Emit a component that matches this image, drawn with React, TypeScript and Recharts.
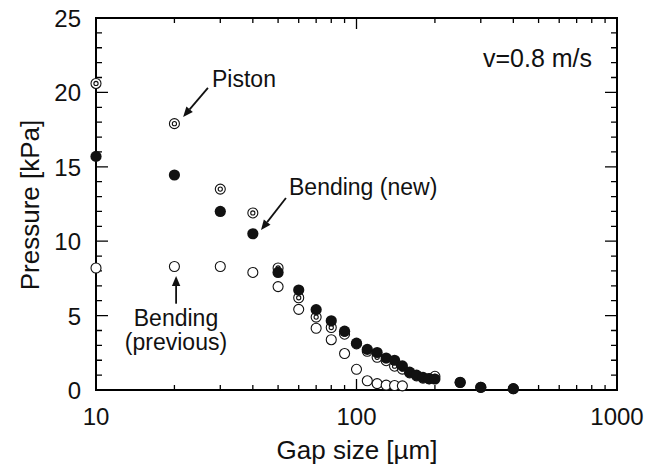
import React from 'react';
import * as R from 'recharts';
import { ScatterChart, Scatter, XAxis, YAxis, ReferenceLine, Customized } from 'recharts';

// ---- data ----
const pistonGaps = [10, 20, 30, 40, 50, 60, 70, 80, 90, 100, 110, 120, 130, 140, 150, 160, 170, 180, 190, 200, 250, 300, 400];
const pistonValues = [20.6, 17.9, 13.5, 11.9, 8.2, 6.2, 4.9, 4.2, 3.75, 3.1, 2.6, 2.2, 1.97, 1.6, 1.4, 1.15, 0.95, 0.8, 0.75, 0.92, 0.5, 0.18, 0.08];

const newGaps = [10, 20, 30, 40, 50, 60, 70, 80, 90, 100, 110, 120, 130, 140, 150, 160, 170, 180, 190, 200, 250, 300, 400];
const newValues = [15.7, 14.45, 12.0, 10.5, 7.9, 6.72, 5.4, 4.65, 3.95, 3.15, 2.73, 2.52, 2.15, 2.0, 1.62, 1.2, 1.0, 0.85, 0.77, 0.74, 0.52, 0.18, 0.09];

const prevGaps = [10, 20, 30, 40, 50, 60, 70, 80, 90, 100, 110, 120, 130, 140, 150];
const prevValues = [8.2, 8.3, 8.3, 7.9, 6.95, 5.42, 4.15, 3.38, 2.45, 1.39, 0.62, 0.43, 0.33, 0.3, 0.28];

const xTicks = [10, 20, 30, 40, 50, 60, 70, 80, 90, 100, 200, 300, 400, 500, 600, 700, 800, 900, 1000];
const xMajor = [10, 100, 1000];
const yTicks = [0, 1, 2, 3, 4, 5, 6, 7, 8, 9, 10, 11, 12, 13, 14, 15, 16, 17, 18, 19, 20, 21, 22, 23, 24, 25];
const yMajor = [0, 5, 10, 15, 20, 25];
const X_MIN = 10;
const X_MAX = 1000;
const Y_MIN = 0;
const Y_MAX = 25;

const xTitle = 'Gap size [µm]';
const yTitle = 'Pressure [kPa]';
const speedLabel = 'v=0.8 m/s';

const pistonData = pistonGaps.map((g, i) => ({ x: g, y: pistonValues[i] }));
const newData = newGaps.map((g, i) => ({ x: g, y: newValues[i] }));
const prevData = prevGaps.map((g, i) => ({ x: g, y: prevValues[i] }));

// ---- layout / styles ----
const INK = '#111';
const FONT = '"Liberation Sans", Arial, Helvetica, sans-serif';
const MARGIN = { top: 18, right: 44, bottom: 0, left: 0 };
const CHART_W = 661;
const CHART_H = 467;
const Y_AXIS_W = 96;
const X_AXIS_H = 77;

const XTickLabel = (props: any) => {
  const { x, y, payload } = props;
  const v = payload.value;
  if (!xMajor.includes(v)) return <g />;
  return (
    <text x={x} y={y + 35} textAnchor="middle" fontSize={24} fontFamily={FONT} fill={INK}>
      {v}
    </text>
  );
};

const YTickLabel = (props: any) => {
  const { x, y, payload } = props;
  const v = payload.value;
  if (!yMajor.includes(v)) return <g />;
  return (
    <text x={x - 15} y={y + 9} textAnchor="end" fontSize={24} fontFamily={FONT} fill={INK}>
      {v}
    </text>
  );
};

const FilledDot = (p: any) => <circle cx={p.cx} cy={p.cy} r={5.6} fill={INK} />;
const OpenDot = (p: any) => <circle cx={p.cx} cy={p.cy} r={5} fill="#fff" stroke={INK} strokeWidth={1.1} />;
const DoubleDot = (p: any) => (
  <g>
    <circle cx={p.cx} cy={p.cy} r={5} fill="#fff" stroke={INK} strokeWidth={1.1} />
    <circle cx={p.cx} cy={p.cy} r={2.1} fill="#fff" stroke={INK} strokeWidth={1.1} />
  </g>
);

const Arrow = (p: any) => {
  const { x1, y1, x2, y2 } = p;
  const a = Math.atan2(y2 - y1, x2 - x1);
  const hl = 10;
  const hw = 4.2;
  const bx = x2 - hl * Math.cos(a);
  const by = y2 - hl * Math.sin(a);
  const nx = -Math.sin(a);
  const ny = Math.cos(a);
  return (
    <g>
      <line x1={x1} y1={y1} x2={bx} y2={by} stroke={INK} strokeWidth={1.8} />
      <polygon
        points={`${x2},${y2} ${bx + hw * nx},${by + hw * ny} ${bx - hw * nx},${by - hw * ny}`}
        fill={INK}
      />
    </g>
  );
};

// Frame with inward ticks on all four sides, placed on the chart's plot area
const usePlot = () => {
  const hook = (R as any).usePlotArea;
  const area = hook ? hook() : null;
  if (area && area.width > 0) return area;
  return {
    x: MARGIN.left + Y_AXIS_W,
    y: MARGIN.top,
    width: CHART_W - MARGIN.left - MARGIN.right - Y_AXIS_W,
    height: CHART_H - MARGIN.top - MARGIN.bottom - X_AXIS_H,
  };
};

const Frame = () => {
  const pa = usePlot();
  const sx = (v: number) => pa.x + (Math.log10(v / X_MIN) / Math.log10(X_MAX / X_MIN)) * pa.width;
  const sy = (v: number) => pa.y + pa.height - ((v - Y_MIN) / (Y_MAX - Y_MIN)) * pa.height;
  const top = pa.y;
  const bottom = pa.y + pa.height;
  const left = pa.x;
  const right = pa.x + pa.width;
  let d = '';
  xTicks.forEach((v) => {
    const len = xMajor.includes(v) ? 11 : 5;
    const x = sx(v);
    d += `M${x},${bottom}V${bottom - len}M${x},${top}V${top + len}`;
  });
  yTicks.forEach((v) => {
    const len = yMajor.includes(v) ? 12 : 6;
    const y = sy(v);
    d += `M${left},${y}H${left + len}M${right},${y}H${right - len}`;
  });
  return (
    <g>
      <path d={d} stroke="#000" strokeWidth={1.3} fill="none" />
      <rect x={left} y={top} width={right - left} height={bottom - top} fill="none" stroke="#000" strokeWidth={2} />
    </g>
  );
};

const Annotations = () => (
  <g fontFamily={FONT} fill={INK}>
    <text x={30} y={205} transform="rotate(-90 30 205)" textAnchor="middle" dominantBaseline="central" fontSize={26}>
      {yTitle}
    </text>
    <text x={357} y={459} textAnchor="middle" fontSize={26}>
      {xTitle}
    </text>
    <text x={212} y={87} fontSize={23}>Piston</text>
    <text x={289} y={195} fontSize={23}>Bending (new)</text>
    <text x={176} y={326} textAnchor="middle" fontSize={23}>Bending</text>
    <text x={176} y={350} textAnchor="middle" fontSize={23}>(previous)</text>
    <text x={483} y={67} fontSize={25}>{speedLabel}</text>
  </g>
);

const ax = { xAxisId: 'bottom', yAxisId: 'left' } as const;

export default function App() {
  return (
    <div style={{ position: 'absolute', left: 0, top: 0 }}>
      <ScatterChart width={CHART_W} height={CHART_H} margin={MARGIN}>
        <XAxis
          xAxisId="bottom"
          dataKey="x"
          type="number"
          scale="log"
          domain={[X_MIN, X_MAX]}
          ticks={xTicks}
          interval={0}
          height={X_AXIS_H}
          tickSize={0}
          tickMargin={0}
          tickLine={false}
          axisLine={false}
          tick={<XTickLabel />}
        />
        <YAxis
          yAxisId="left"
          dataKey="y"
          type="number"
          domain={[Y_MIN, Y_MAX]}
          ticks={yTicks}
          interval={0}
          width={Y_AXIS_W}
          tickSize={0}
          tickMargin={0}
          tickLine={false}
          axisLine={false}
          tick={<YTickLabel />}
        />
        <Scatter {...ax} data={pistonData} shape={DoubleDot} isAnimationActive={false} />
        <Scatter {...ax} data={prevData} shape={OpenDot} isAnimationActive={false} />
        <Scatter {...ax} data={newData} shape={FilledDot} isAnimationActive={false} />
        <ReferenceLine {...ax} segment={[{ x: 26.9, y: 20.3 }, { x: 21.6, y: 18.35 }]} shape={Arrow} />
        <ReferenceLine {...ax} segment={[{ x: 53.6, y: 12.9 }, { x: 43.0, y: 10.75 }]} shape={Arrow} />
        <ReferenceLine {...ax} segment={[{ x: 20.3, y: 5.8 }, { x: 20.3, y: 7.66 }]} shape={Arrow} />
        <Customized component={<Frame />} />
        <Customized component={<Annotations />} />
      </ScatterChart>
    </div>
  );
}
